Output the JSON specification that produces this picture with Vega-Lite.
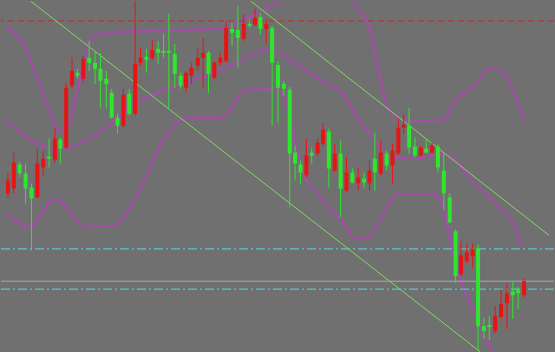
{
  "$schema": "https://vega.github.io/schema/vega-lite/v6.json",
  "autosize": {"type": "fit", "contains": "padding"},
  "width": 555,
  "height": 352,
  "padding": 0,
  "background": "#707070",
  "config": {"view": {"stroke": null}},
  "datasets": {
    "candles": [
      {"x":2,"top":180,"bot":193,"hi":172,"lo":197,"c":"r"},
      {"x":8,"top":162,"bot":188,"hi":152,"lo":193,"c":"r"},
      {"x":14,"top":164,"bot":173,"hi":161,"lo":177,"c":"g"},
      {"x":20,"top":173,"bot":188,"hi":163,"lo":203,"c":"g"},
      {"x":26,"top":187,"bot":198,"hi":183,"lo":250,"c":"g"},
      {"x":32,"top":163,"bot":197,"hi":148,"lo":198,"c":"r"},
      {"x":38,"top":158,"bot":167,"hi":150,"lo":175,"c":"r"},
      {"x":44,"top":156,"bot":158,"hi":138,"lo":167,"c":"g"},
      {"x":50,"top":138,"bot":159,"hi":128,"lo":162,"c":"r"},
      {"x":55.5,"top":139,"bot":148,"hi":137,"lo":163,"c":"g"},
      {"x":61.5,"top":87,"bot":147,"hi":82,"lo":148,"c":"r"},
      {"x":67.5,"top":70,"bot":85,"hi":57,"lo":88,"c":"r"},
      {"x":73,"top":72,"bot":75,"hi":68,"lo":78,"c":"g"},
      {"x":79,"top":58,"bot":78,"hi":55,"lo":82,"c":"r"},
      {"x":85,"top":57,"bot":62,"hi":40,"lo":70,"c":"g"},
      {"x":91,"top":62,"bot":68,"hi":50,"lo":83,"c":"g"},
      {"x":96.5,"top":68,"bot":80,"hi":52,"lo":107,"c":"g"},
      {"x":102.5,"top":78,"bot":83,"hi":70,"lo":108,"c":"g"},
      {"x":108,"top":92,"bot":117,"hi":88,"lo":118,"c":"g"},
      {"x":114,"top":117,"bot":125,"hi":113,"lo":133,"c":"g"},
      {"x":120,"top":94,"bot":125,"hi":88,"lo":127,"c":"r"},
      {"x":126,"top":93,"bot":113,"hi":88,"lo":115,"c":"g"},
      {"x":132,"top":63,"bot":113,"hi":0,"lo":115,"c":"r"},
      {"x":137.5,"top":57,"bot":62,"hi":47,"lo":65,"c":"r"},
      {"x":143.5,"top":56,"bot":59,"hi":48,"lo":72,"c":"g"},
      {"x":149.5,"top":49,"bot":57,"hi":39,"lo":59,"c":"r"},
      {"x":155.5,"top":48,"bot":52,"hi":40,"lo":63,"c":"g"},
      {"x":161,"top":50,"bot":52,"hi":33,"lo":57,"c":"g"},
      {"x":166.5,"top":50,"bot":52,"hi":13,"lo":107,"c":"g"},
      {"x":172.5,"top":53,"bot":73,"hi":43,"lo":87,"c":"g"},
      {"x":178.5,"top":75,"bot":85,"hi":72,"lo":88,"c":"g"},
      {"x":184,"top":72,"bot":87,"hi":70,"lo":92,"c":"r"},
      {"x":189.5,"top":67,"bot":75,"hi":62,"lo":83,"c":"r"},
      {"x":196,"top":57,"bot":65,"hi":47,"lo":70,"c":"r"},
      {"x":201.5,"top":52,"bot":57,"hi":37,"lo":88,"c":"r"},
      {"x":207,"top":52,"bot":73,"hi":50,"lo":92,"c":"g"},
      {"x":213,"top":62,"bot":77,"hi":60,"lo":78,"c":"r"},
      {"x":219,"top":57,"bot":62,"hi":52,"lo":65,"c":"r"},
      {"x":225,"top":27,"bot":60,"hi":20,"lo":62,"c":"r"},
      {"x":231,"top":28,"bot":32,"hi":22,"lo":45,"c":"g"},
      {"x":237,"top":29,"bot":37,"hi":5,"lo":67,"c":"g"},
      {"x":243,"top":23,"bot":38,"hi":13,"lo":40,"c":"r"},
      {"x":249,"top":23,"bot":25,"hi":18,"lo":27,"c":"g"},
      {"x":254.5,"top":17,"bot":24,"hi":8,"lo":25,"c":"r"},
      {"x":260,"top":16,"bot":28,"hi":12,"lo":33,"c":"g"},
      {"x":266,"top":23,"bot":28,"hi":18,"lo":43,"c":"r"},
      {"x":272,"top":27,"bot":62,"hi":25,"lo":125,"c":"g"},
      {"x":278,"top":64,"bot":87,"hi":60,"lo":122,"c":"g"},
      {"x":284,"top":83,"bot":88,"hi":80,"lo":95,"c":"g"},
      {"x":290,"top":89,"bot":153,"hi":86,"lo":207,"c":"g"},
      {"x":295.5,"top":152,"bot":163,"hi":145,"lo":180,"c":"g"},
      {"x":301,"top":164,"bot":172,"hi":160,"lo":183,"c":"g"},
      {"x":307,"top":155,"bot":175,"hi":138,"lo":177,"c":"r"},
      {"x":312.5,"top":152,"bot":155,"hi":147,"lo":163,"c":"g"},
      {"x":318.5,"top":142,"bot":153,"hi":138,"lo":155,"c":"r"},
      {"x":324,"top":129,"bot":143,"hi":122,"lo":145,"c":"r"},
      {"x":330,"top":131,"bot":168,"hi":128,"lo":187,"c":"g"},
      {"x":336,"top":153,"bot":170,"hi":143,"lo":172,"c":"r"},
      {"x":342,"top":153,"bot":188,"hi":140,"lo":217,"c":"g"},
      {"x":348,"top":172,"bot":190,"hi":157,"lo":192,"c":"r"},
      {"x":354,"top":172,"bot":182,"hi":168,"lo":183,"c":"g"},
      {"x":360,"top":177,"bot":183,"hi":167,"lo":190,"c":"r"},
      {"x":366,"top":178,"bot":182,"hi":172,"lo":187,"c":"g"},
      {"x":371.5,"top":170,"bot":183,"hi":160,"lo":190,"c":"r"},
      {"x":377,"top":158,"bot":172,"hi":132,"lo":190,"c":"g"},
      {"x":383,"top":152,"bot":173,"hi":140,"lo":175,"c":"r"},
      {"x":389,"top":153,"bot":165,"hi":150,"lo":170,"c":"g"},
      {"x":395,"top":150,"bot":165,"hi":143,"lo":183,"c":"r"},
      {"x":401,"top":127,"bot":153,"hi":118,"lo":155,"c":"r"},
      {"x":406.5,"top":124,"bot":127,"hi":113,"lo":133,"c":"r"},
      {"x":412,"top":125,"bot":147,"hi":107,"lo":153,"c":"g"},
      {"x":418,"top":146,"bot":155,"hi":137,"lo":157,"c":"g"},
      {"x":424,"top":147,"bot":155,"hi":145,"lo":157,"c":"r"},
      {"x":429.5,"top":148,"bot":152,"hi":138,"lo":153,"c":"g"},
      {"x":435.5,"top":145,"bot":152,"hi":142,"lo":153,"c":"r"},
      {"x":441.5,"top":146,"bot":167,"hi":143,"lo":172,"c":"g"},
      {"x":447.5,"top":170,"bot":193,"hi":152,"lo":210,"c":"g"},
      {"x":453.5,"top":197,"bot":222,"hi":193,"lo":223,"c":"g"},
      {"x":459.5,"top":231,"bot":276,"hi":229,"lo":283,"c":"g"},
      {"x":465,"top":255,"bot":274,"hi":241,"lo":276,"c":"r"},
      {"x":471,"top":252,"bot":261,"hi":243,"lo":263,"c":"r"},
      {"x":477,"top":249,"bot":256,"hi":243,"lo":268,"c":"r"},
      {"x":482.5,"top":248,"bot":326,"hi":244,"lo":350,"c":"g"},
      {"x":488.5,"top":326,"bot":331,"hi":318,"lo":339,"c":"g"},
      {"x":494,"top":325,"bot":327,"hi":316,"lo":340,"c":"g"},
      {"x":500,"top":316,"bot":331,"hi":306,"lo":333,"c":"r"},
      {"x":506,"top":304,"bot":317,"hi":289,"lo":318,"c":"r"},
      {"x":512,"top":293,"bot":303,"hi":283,"lo":329,"c":"r"},
      {"x":518,"top":291,"bot":295,"hi":281,"lo":319,"c":"g"},
      {"x":523.5,"top":290,"bot":293,"hi":287,"lo":309,"c":"g"},
      {"x":529.5,"top":281,"bot":295,"hi":278,"lo":297,"c":"r"}
    ],
    "bands": [
      {"id":"u1","x":0,"y":26},{"id":"u1","x":10,"y":33},{"id":"u1","x":20,"y":48},{"id":"u1","x":33,"y":80},{"id":"u1","x":45,"y":112},{"id":"u1","x":55,"y":130},{"id":"u1","x":62,"y":128},{"id":"u1","x":75,"y":80},{"id":"u1","x":88,"y":36},{"id":"u1","x":110,"y":31},{"id":"u1","x":150,"y":30},{"id":"u1","x":185,"y":29},{"id":"u1","x":225,"y":27},{"id":"u1","x":245,"y":18},{"id":"u1","x":265,"y":8},{"id":"u1","x":285,"y":-2},
      {"id":"u2","x":353,"y":-2},{"id":"u2","x":362,"y":10},{"id":"u2","x":370,"y":23},{"id":"u2","x":378,"y":55},{"id":"u2","x":385,"y":90},{"id":"u2","x":392,"y":110},{"id":"u2","x":400,"y":117},{"id":"u2","x":413,"y":120},{"id":"u2","x":447,"y":120},{"id":"u2","x":457,"y":103},{"id":"u2","x":480,"y":83},{"id":"u2","x":495,"y":67},{"id":"u2","x":507,"y":70},{"id":"u2","x":517,"y":87},{"id":"u2","x":530,"y":120},
      {"id":"m","x":0,"y":120},{"id":"m","x":15,"y":132},{"id":"m","x":33,"y":143},{"id":"m","x":50,"y":148},{"id":"m","x":63,"y":147},{"id":"m","x":93,"y":133},{"id":"m","x":133,"y":102},{"id":"m","x":160,"y":90},{"id":"m","x":185,"y":81},{"id":"m","x":205,"y":75},{"id":"m","x":240,"y":60},{"id":"m","x":268,"y":48},{"id":"m","x":276,"y":50},{"id":"m","x":292,"y":60},{"id":"m","x":322,"y":80},{"id":"m","x":346,"y":95},{"id":"m","x":359,"y":117},{"id":"m","x":372,"y":133},{"id":"m","x":385,"y":150},{"id":"m","x":397,"y":157},{"id":"m","x":420,"y":158},{"id":"m","x":445,"y":153},{"id":"m","x":460,"y":160},{"id":"m","x":473,"y":176},{"id":"m","x":503,"y":206},{"id":"m","x":520,"y":226},{"id":"m","x":527,"y":246},
      {"id":"l","x":0,"y":213},{"id":"l","x":25,"y":226},{"id":"l","x":50,"y":198},{"id":"l","x":80,"y":226},{"id":"l","x":107,"y":226},{"id":"l","x":133,"y":196},{"id":"l","x":143,"y":176},{"id":"l","x":160,"y":140},{"id":"l","x":177,"y":120},{"id":"l","x":185,"y":117},{"id":"l","x":220,"y":117},{"id":"l","x":230,"y":108},{"id":"l","x":242,"y":90},{"id":"l","x":268,"y":88},{"id":"l","x":282,"y":92},{"id":"l","x":292,"y":125},{"id":"l","x":303,"y":170},{"id":"l","x":320,"y":195},{"id":"l","x":345,"y":223},{"id":"l","x":358,"y":239},{"id":"l","x":370,"y":237},{"id":"l","x":385,"y":215},{"id":"l","x":400,"y":194},{"id":"l","x":437,"y":194},{"id":"l","x":447,"y":206},{"id":"l","x":453,"y":236},{"id":"l","x":465,"y":280},{"id":"l","x":480,"y":316},{"id":"l","x":498,"y":355}
    ],
    "channel": [
      {"id":"lower","x":25,"y":0},{"id":"lower","x":485,"y":352},
      {"id":"upper","x":250,"y":0},{"id":"upper","x":555,"y":235}
    ],
    "maxline": [{"y":20}],
    "levels": [{"y":248.5},{"y":289}],
    "bid": [{"y":281}]
  },
  "layer": [
    {
      "data": {"name": "bands"},
      "mark": {"type": "line", "stroke": "#a24fa6", "strokeWidth": 2.5, "clip": true, "interpolate": "monotone"},
      "encoding": {
        "x": {"field": "x", "type": "quantitative", "scale": {"domain": [0, 555], "nice": false, "zero": false}, "axis": null},
        "y": {"field": "y", "type": "quantitative", "scale": {"domain": [0, 352], "nice": false, "zero": false, "reverse": true}, "axis": null},
        "detail": {"field": "id"},
        "order": {"field": "x", "type": "quantitative"}
      }
    },
    {
      "data": {"name": "maxline"},
      "mark": {"type": "rule", "stroke": "#b23a3a", "strokeWidth": 1.2, "strokeDash": [6, 4]},
      "encoding": {"y": {"field": "y", "type": "quantitative"}}
    },
    {
      "data": {"name": "levels"},
      "mark": {"type": "rule", "stroke": "#5cc4c8", "strokeWidth": 1.2, "strokeDash": [9, 3, 2, 3]},
      "encoding": {"y": {"field": "y", "type": "quantitative"}}
    },
    {
      "data": {"name": "bid"},
      "mark": {"type": "rule", "stroke": "#a9a9a9", "strokeWidth": 1},
      "encoding": {"y": {"field": "y", "type": "quantitative"}}
    },
    {
      "data": {"name": "channel"},
      "mark": {"type": "line", "stroke": "#7fd860", "strokeWidth": 1, "clip": true},
      "encoding": {
        "x": {"field": "x", "type": "quantitative"},
        "y": {"field": "y", "type": "quantitative"},
        "detail": {"field": "id"}
      }
    },
    {
      "data": {"name": "candles"},
      "mark": {"type": "rule", "strokeWidth": 1},
      "encoding": {
        "x": {"field": "x", "type": "quantitative"},
        "y": {"field": "hi", "type": "quantitative"},
        "y2": {"field": "lo"},
        "color": {"field": "c", "type": "nominal", "scale": {"domain": ["g", "r"], "range": ["#2ee62e", "#e81414"]}, "legend": null}
      }
    },
    {
      "data": {"name": "candles"},
      "mark": {"type": "bar", "width": 4},
      "encoding": {
        "x": {"field": "x", "type": "quantitative"},
        "y": {"field": "top", "type": "quantitative"},
        "y2": {"field": "bot"},
        "color": {"field": "c", "type": "nominal", "scale": {"domain": ["g", "r"], "range": ["#2ee62e", "#e81414"]}, "legend": null}
      }
    }
  ]
}
